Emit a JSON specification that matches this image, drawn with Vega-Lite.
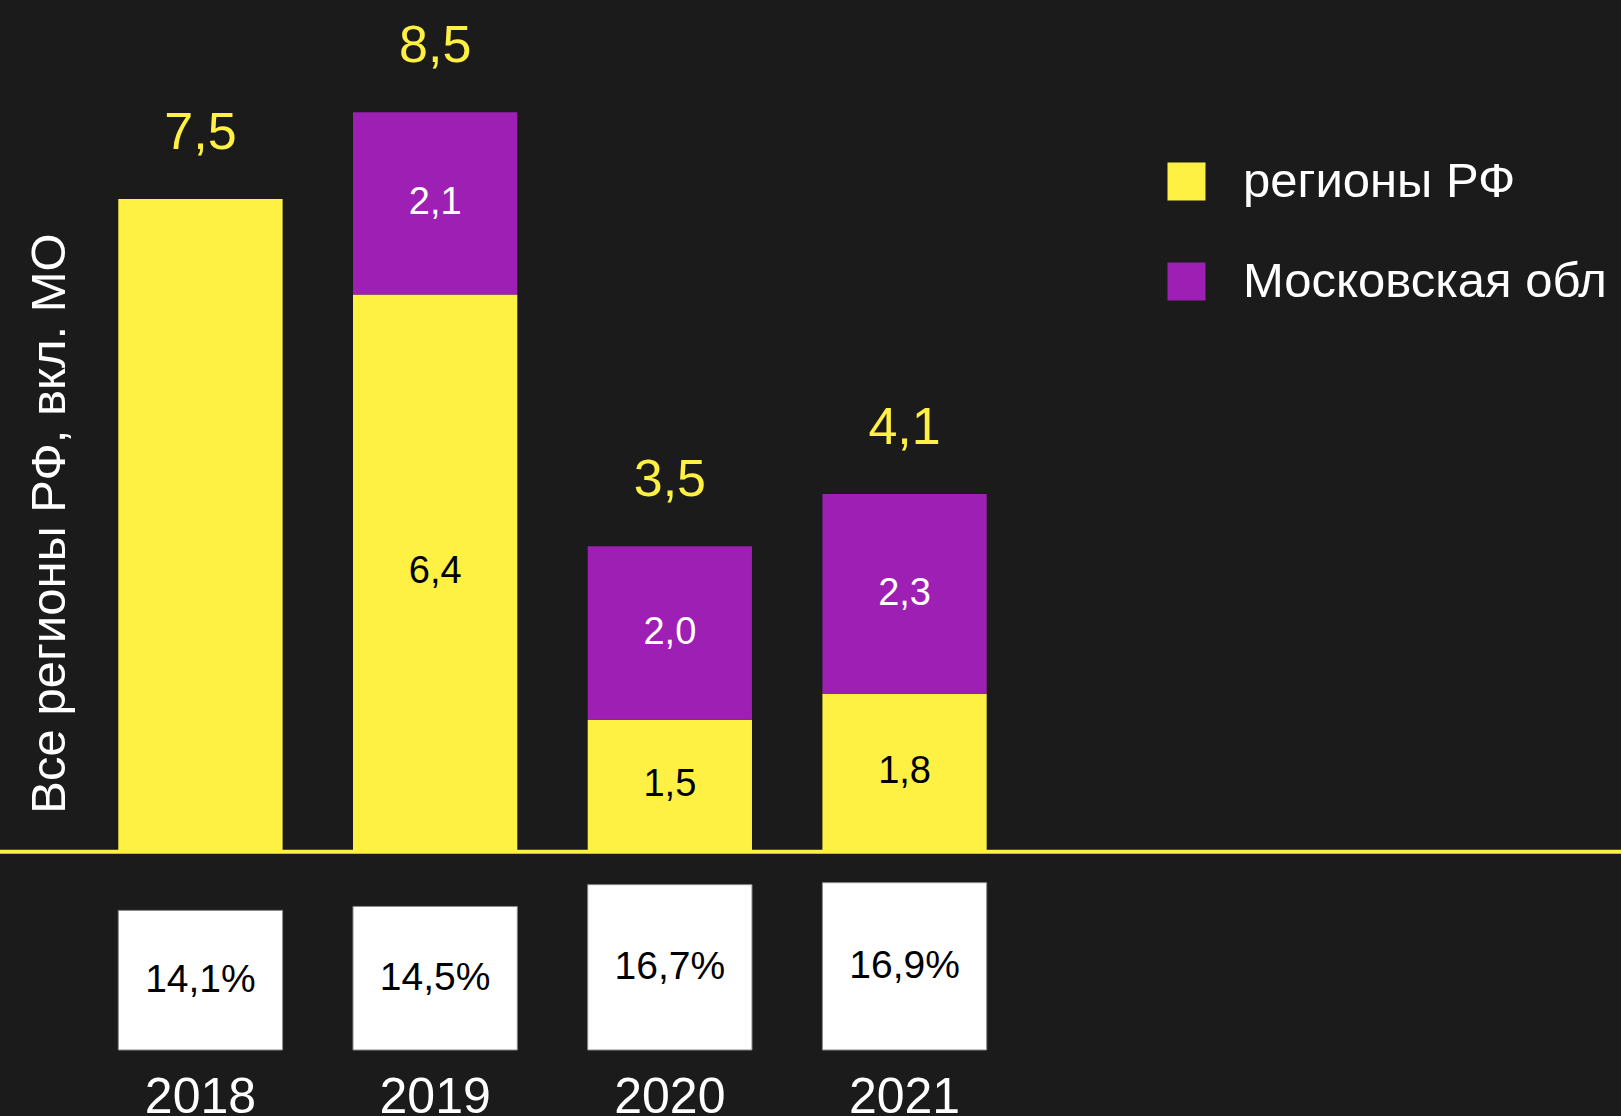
{
  "$schema": "https://vega.github.io/schema/vega-lite/v6.json",
  "width": 1621,
  "height": 1116,
  "autosize": "none",
  "padding": 0,
  "background": "#1b1b1b",
  "config": {
    "view": {"stroke": null},
    "font": "Liberation Sans",
    "locale": {"number": {"decimal": ",", "thousands": " ", "grouping": [3], "currency": ["", ""]}}
  },
  "datasets": {
    "main": [
      {"year": "2018", "series": "регионы РФ", "value": 7.5},
      {"year": "2019", "series": "регионы РФ", "value": 6.4},
      {"year": "2019", "series": "Московская обл", "value": 2.1},
      {"year": "2020", "series": "регионы РФ", "value": 1.5},
      {"year": "2020", "series": "Московская обл", "value": 2.0},
      {"year": "2021", "series": "регионы РФ", "value": 1.8},
      {"year": "2021", "series": "Московская обл", "value": 2.3}
    ],
    "share": [
      {"year": "2018", "pct": 0.141},
      {"year": "2019", "pct": 0.145},
      {"year": "2020", "pct": 0.167},
      {"year": "2021", "pct": 0.169}
    ]
  },
  "layer": [
    {
      "data": {"name": "main"},
      "mark": {"type": "bar"},
      "encoding": {
        "x": {
          "field": "year", "type": "nominal",
          "scale": {"range": [83.1, 1021.9], "paddingInner": 0.3, "paddingOuter": 0.15},
          "axis": null
        },
        "y": {
          "field": "value", "type": "quantitative", "stack": "zero",
          "scale": {"domain": [-3.065, 9.793], "nice": false, "zero": false},
          "axis": {
            "orient": "left",
            "title": "Все регионы РФ, вкл. МО",
            "labels": false, "ticks": false, "domain": false, "grid": false,
            "titleColor": "#ffffff", "titleFontSize": 49, "titleFontWeight": "normal",
            "titleFont": "Liberation Sans",
            "titleAngle": 270, "titleX": 64, "titleY": 523,
            "titleAlign": "center", "titleBaseline": "alphabetic"
          }
        },
        "color": {
          "field": "series", "type": "nominal",
          "scale": {"domain": ["регионы РФ", "Московская обл"], "range": ["#FFF044", "#9D1FB3"]},
          "legend": {
            "title": null, "orient": "none", "legendX": 1162, "legendY": 157,
            "symbolType": "square", "symbolSize": 1444, "symbolStrokeWidth": 0,
            "labelFontSize": 49, "labelColor": "#ffffff", "labelFont": "Liberation Sans",
            "labelOffset": 32, "rowPadding": 50, "labelLimit": 800, "padding": 0
          }
        },
        "order": {"field": "series", "sort": "descending"}
      }
    },
    {
      "data": {"values": [{}]},
      "mark": {"type": "rule", "color": "#FFF044", "strokeWidth": 4},
      "encoding": {
        "y": {"datum": -0.02, "type": "quantitative", "scale": {"domain": [-3.065, 9.793], "nice": false, "zero": false}, "axis": null}
      }
    },
    {
      "data": {"name": "main"},
      "transform": [
        {"joinaggregate": [{"op": "count", "as": "n"}], "groupby": ["year"]},
        {"filter": "datum.n > 1"}
      ],
      "mark": {"type": "text", "fontSize": 38, "baseline": "middle", "align": "center"},
      "encoding": {
        "x": {"field": "year", "type": "nominal", "scale": {"range": [83.1, 1021.9], "paddingInner": 0.3, "paddingOuter": 0.15}, "axis": null},
        "y": {"field": "value", "type": "quantitative", "stack": "zero", "bandPosition": 0.5, "scale": {"domain": [-3.065, 9.793], "nice": false, "zero": false}, "axis": null},
        "detail": {"field": "series"},
        "order": {"field": "series", "sort": "descending"},
        "text": {"field": "value", "type": "quantitative", "format": ".1f"},
        "color": {"condition": {"test": "datum.series === 'Московская обл'", "value": "#ffffff"}, "value": "#000000"}
      }
    },
    {
      "data": {"name": "main"},
      "transform": [
        {"aggregate": [{"op": "sum", "field": "value", "as": "total"}], "groupby": ["year"]}
      ],
      "mark": {"type": "text", "fontSize": 52, "baseline": "alphabetic", "align": "center", "dy": -50, "color": "#FFF044"},
      "encoding": {
        "x": {"field": "year", "type": "nominal", "scale": {"range": [83.1, 1021.9], "paddingInner": 0.3, "paddingOuter": 0.15}, "axis": null},
        "y": {"field": "total", "type": "quantitative", "scale": {"domain": [-3.065, 9.793], "nice": false, "zero": false}, "axis": null},
        "text": {"field": "total", "type": "quantitative", "format": ".1f"}
      }
    },
    {
      "data": {"name": "share"},
      "mark": {"type": "bar", "color": "#ffffff", "stroke": "#8a8a8a", "strokeWidth": 1},
      "encoding": {
        "x": {"field": "year", "type": "nominal", "scale": {"range": [83.1, 1021.9], "paddingInner": 0.3, "paddingOuter": 0.15}, "axis": null},
        "y": {"field": "pct", "type": "quantitative", "scale": {"domain": [-0.06667, 1.0606], "nice": false, "zero": false}, "axis": null}
      }
    },
    {
      "data": {"name": "share"},
      "mark": {"type": "text", "fontSize": 39, "color": "#000000", "baseline": "middle", "align": "center"},
      "encoding": {
        "x": {"field": "year", "type": "nominal", "scale": {"range": [83.1, 1021.9], "paddingInner": 0.3, "paddingOuter": 0.15}, "axis": null},
        "y": {"field": "pct", "type": "quantitative", "stack": "zero", "bandPosition": 0.5, "scale": {"domain": [-0.06667, 1.0606], "nice": false, "zero": false}, "axis": null},
        "text": {"field": "pct", "type": "quantitative", "format": ".1%"}
      }
    },
    {
      "data": {"name": "share"},
      "mark": {"type": "text", "fontSize": 50, "color": "#ffffff", "baseline": "alphabetic", "align": "center"},
      "encoding": {
        "x": {"field": "year", "type": "nominal", "scale": {"range": [83.1, 1021.9], "paddingInner": 0.3, "paddingOuter": 0.15}, "axis": null},
        "y": {"datum": -0.0636, "type": "quantitative", "scale": {"domain": [-0.06667, 1.0606], "nice": false, "zero": false}, "axis": null},
        "text": {"field": "year", "type": "nominal"}
      }
    }
  ],
  "resolve": {"scale": {"y": "independent"}}
}
